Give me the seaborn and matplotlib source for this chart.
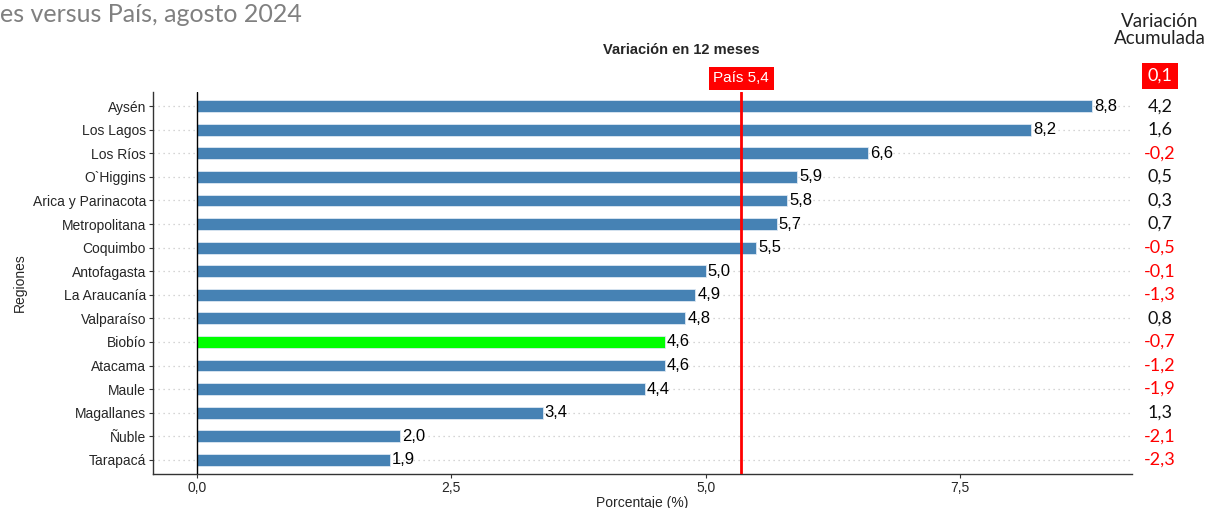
import pandas as pd
import matplotlib
matplotlib.use("Agg")
import matplotlib.pyplot as plt
import seaborn as sns

# Datos
regiones = ["Aysén", "Los Lagos", "Los Ríos", "O`Higgins", "Arica y Parinacota",
            "Metropolitana", "Coquimbo", "Antofagasta", "La Araucanía", "Valparaíso",
            "Biobío", "Atacama", "Maule", "Magallanes", "Ñuble", "Tarapacá"]
var_12m = [8.8, 8.2, 6.6, 5.9, 5.8, 5.7, 5.5, 5.0, 4.9, 4.8, 4.6, 4.6, 4.4, 3.4, 2.0, 1.9]
var_acum = [4.2, 1.6, -0.2, 0.5, 0.3, 0.7, -0.5, -0.1, -1.3, 0.8, -0.7, -1.2, -1.9, 1.3, -2.1, -2.3]
pais_12m = 5.35
pais_12m_txt = "5,4"
pais_acum = 0.1
destacada = "Biobío"

df = pd.DataFrame({"region": regiones, "valor": var_12m, "acum": var_acum})
df["grupo"] = ["dest" if r == destacada else "otro" for r in df["region"]]

sns.set_theme(style="white")
plt.rcParams["font.family"] = ["Liberation Sans", "DejaVu Sans"]

fig = plt.figure(figsize=(12.06, 5.08), dpi=100)
ax = fig.add_axes([0.1269, 0.0669, 0.8117, 0.752])

sns.barplot(data=df, x="valor", y="region", hue="grupo",
            palette={"otro": "#4682B4", "dest": "#00FF00"}, saturation=1,
            width=0.5, edgecolor="#dde8f3", linewidth=0.6,
            dodge=False, legend=False, ax=ax, zorder=3)

# grilla punteada
for i in range(len(regiones)):
    ax.axhline(i, color="#c8c8c8", linestyle=(0, (1, 3)), linewidth=0.9, zorder=1)

ax.axvline(0, color="black", linewidth=1, zorder=4)
ax.axvline(pais_12m, color="red", linewidth=2, zorder=5)

for i, v in enumerate(var_12m):
    ax.text(v + 0.02, i, f"{v:.1f}".replace(".", ","), va="center", ha="left",
            fontsize=12, color="black", zorder=6)

ax.set_xlim(-0.43, 9.19)
ax.set_ylim(len(regiones) - 0.4, -0.6)
ax.set_xticks([0, 2.5, 5.0, 7.5])
ax.set_xticklabels(["0,0", "2,5", "5,0", "7,5"], fontsize=10)
ax.tick_params(axis="y", labelsize=10, length=3, left=True, width=0.8, color="#333333", pad=2)
ax.tick_params(axis="x", length=3, bottom=True, width=0.8, color="#333333", pad=2)
ax.set_xlabel("Porcentaje (%)", fontsize=10, labelpad=1)
ax.set_ylabel("Regiones", fontsize=10)
for s in ["top", "right"]:
    ax.spines[s].set_visible(False)
for s in ["left", "bottom"]:
    ax.spines[s].set_color("#333333")
    ax.spines[s].set_linewidth(1)

ax.set_title("Variación en 12 meses", fontsize=10.5, fontweight="bold", pad=0,
             x=0.54, y=1.1)

# etiqueta país
trans_p = matplotlib.transforms.blended_transform_factory(ax.transData, ax.transAxes)
ax.text(pais_12m, 1.018, f"País {pais_12m_txt}", color="white", fontsize=11,
        ha="center", va="bottom", transform=trans_p,
        bbox=dict(boxstyle="square,pad=0.3", facecolor="red", edgecolor="none"),
        zorder=7, clip_on=False)

# columna acumulada
xr = 1160 / 1206
fig.text(xr, 1 - 30 / 508, "Variación\nAcumulada", ha="center", va="center",
         fontsize=13.5, family=["Lato", "DejaVu Sans"], color="#222222", linespacing=1.0)
fig.text(xr, 1 - 76 / 508, f"{pais_acum:.1f}".replace(".", ","), ha="center", va="center",
         fontsize=13, family=["Lato", "DejaVu Sans"], color="white",
         bbox=dict(boxstyle="square,pad=0.3", facecolor="red", edgecolor="none"))
trans = matplotlib.transforms.blended_transform_factory(fig.transFigure, ax.transData)
for i, a in enumerate(var_acum):
    ax.text(xr, i, f"{a:.1f}".replace(".", ","), transform=trans, ha="center", va="center",
            fontsize=13, family=["Lato", "DejaVu Sans"],
            color="red" if a < 0 else "#111111", clip_on=False)

fig.text(0, 1 - 15 / 508, "es versus País, agosto 2024", ha="left", va="center",
         fontsize=18, family=["Lato", "DejaVu Sans"], color="#808080")

fig.savefig("out.png", dpi=100)
